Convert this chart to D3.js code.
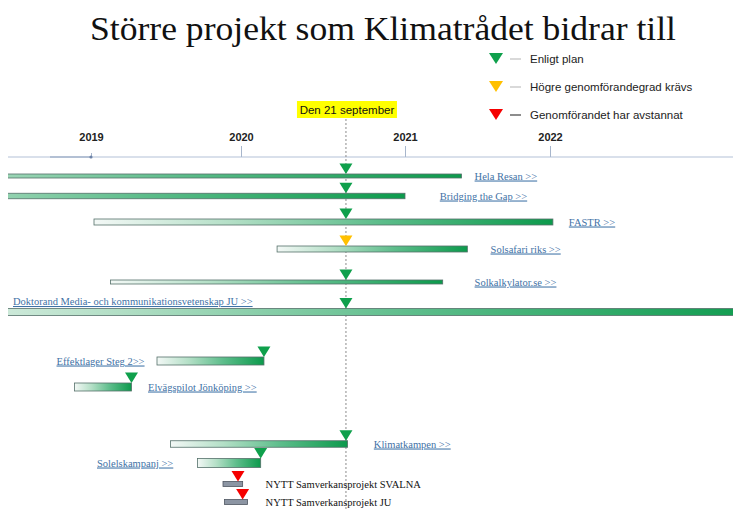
<!DOCTYPE html>
<html>
<head>
<meta charset="utf-8">
<script src="https://cdn.jsdelivr.net/npm/d3@7"></script>
<style>
  html, body { margin: 0; padding: 0; background: #fff; }
  svg { display: block; }
</style>
</head>
<body>
<svg id="chart" width="733" height="509"></svg>
<script>
// ---------------------------------------------------------------
// Data (years as decimal values, lanes in row units)
// ---------------------------------------------------------------
const years = [2019, 2020, 2021, 2022]
const today = 2020.64
const todayLabel = 'Den 21 september'

const projects = [
  'Hela Resan >>', 'Bridging the Gap >>', 'FASTR >>', 'Solsafari riks >>',
  'Solkalkylator.se >>', 'Doktorand Media- och kommunikationsvetenskap JU >>',
  'Effektlager Steg 2>>', 'Elvägspilot Jönköping >>', 'Klimatkampen >>',
  'Solelskampanj >>', 'NYTT Samverkansprojekt SVALNA', 'NYTT Samverkansprojekt JU'
]
const starts   = [2016.5, 2016.5, 2019.02, 2020.22, 2019.13, 2017.3, 2019.44, 2018.89, 2019.53, 2019.71, 2019.88, 2019.89]
const ends     = [2021.39, 2021.0, 2022.02, 2021.43, 2021.26, 2023.5, 2020.14, 2019.27, 2020.65, 2020.12, 2020.01, 2020.04]
const markerAt = [today, today, today, today, today, today, 2020.14, 2019.27, today, 2020.12, 2019.98, 2020.01]
const status   = ['ok', 'ok', 'ok', 'warn', 'ok', 'ok', 'ok', 'ok', 'ok', 'ok', 'stop', 'stop']
const lanes    = [0, 2, 4.6, 7.3, 10.6, 13.6, 18.5, 21.1, 26.8, 28.7, 30.8, 32.6]
const labelAt  = [2021.48, 2021.24, 2022.13, 2021.59, 2021.48, 2018.48, 2018.77, 2019.38, 2020.81, 2019.04, 2020.15, 2020.15]
const isNew    = [false, false, false, false, false, false, false, false, false, false, true, true]

const legendKeys   = ['ok', 'warn', 'stop']
const legendLabels = ['Enligt plan', 'Högre genomförandegrad krävs', 'Genomförandet har avstannat']

// ---------------------------------------------------------------
// Styles
// ---------------------------------------------------------------
const W = 733, H = 509
const LEFT = 8
const AXIS_Y = 157
const BAR_H = [4, 5.5, 6, 6, 4, 7, 8, 8, 6.5, 9, 5, 5]
const STATUS_COLOR = { ok: '#0fa04c', warn: '#ffc000', stop: '#f50000' }
const LEGEND_DASH = { ok: '#bfbfbf', warn: '#bfbfbf', stop: '#404040' }
const LINK_COLOR = '#3f72a6'
const SERIF = '"Liberation Serif", "DejaVu Serif", serif'
const SANS = '"Liberation Sans", "Noto Sans", Arial, sans-serif'

const rows = projects.map((name, i) => ({
  i, name, start: starts[i], end: ends[i], marker: markerAt[i],
  status: status[i], lane: lanes[i], label: labelAt[i], isNew: isNew[i]
}))

const x = d3.scaleLinear().domain(years).range([91, 241, 405, 550])
const y = d3.scaleLinear().domain([0, 32.6]).range([176, 502])

const svg = d3.select('#chart')
const defs = svg.append('defs')

defs.append('clipPath').attr('id', 'plotclip')
  .append('rect').attr('x', LEFT).attr('y', 0).attr('width', W - LEFT).attr('height', H)

// gradient per bar: whitish at start, deep green at end
rows.forEach(d => {
  const g = defs.append('linearGradient').attr('id', 'grad' + d.i)
    .attr('x1', '0').attr('x2', '1').attr('y1', '0').attr('y2', '0')
  const stops = [[0, '#f3f8f6'], [0.3, '#b3dfc6'], [0.62, '#5dbd8b'], [1, '#0c9a4c']]
  stops.forEach(s => g.append('stop').attr('offset', s[0]).attr('stop-color', s[1]))
})

// ---------------------------------------------------------------
// Title
// ---------------------------------------------------------------
svg.append('text')
  .attr('x', 383).attr('y', 40)
  .attr('text-anchor', 'middle')
  .attr('textLength', 586).attr('lengthAdjust', 'spacingAndGlyphs')
  .style('font-family', SERIF)
  .style('font-size', '34px')
  .style('fill', '#111')
  .text('Större projekt som Klimatrådet bidrar till')

// ---------------------------------------------------------------
// Legend
// ---------------------------------------------------------------
const tri = (cx, tipY, w, h) => d3.line()([[cx - w / 2, tipY - h], [cx + w / 2, tipY - h], [cx, tipY]]) + 'Z'

const leg = svg.append('g').selectAll('g').data(legendKeys).join('g')
  .attr('transform', (d, i) => `translate(0, ${59 + i * 28})`)
leg.append('path').attr('d', tri(496, 5, 14, 11)).attr('fill', d => STATUS_COLOR[d])
leg.append('line').attr('x1', 510).attr('x2', 521).attr('y1', 0).attr('y2', 0)
  .attr('stroke', d => LEGEND_DASH[d]).attr('stroke-width', 1.2)
leg.append('text').attr('x', 530).attr('y', 4)
  .style('font-family', SANS).style('font-size', '11.5px').style('fill', '#222')
  .text((d, i) => legendLabels[i])

// ---------------------------------------------------------------
// Time axis
// ---------------------------------------------------------------
svg.append('line')
  .attr('x1', LEFT).attr('x2', W).attr('y1', AXIS_Y).attr('y2', AXIS_Y)
  .attr('stroke', '#b4c2d8').attr('stroke-width', 1.2)
svg.append('line')
  .attr('x1', 50).attr('x2', x(2019)).attr('y1', AXIS_Y).attr('y2', AXIS_Y)
  .attr('stroke', '#8d9fbd').attr('stroke-width', 1.2)

const axis = svg.append('g')
  .attr('transform', `translate(0, ${AXIS_Y})`)
  .call(d3.axisTop(x).tickValues(years).tickFormat(d3.format('d')).tickSize(11).tickPadding(5))
axis.select('.domain').remove()
axis.selectAll('.tick line').attr('stroke', '#a7b6cc')
  .attr('y2', d => d === 2019 ? -4 : -11)
axis.selectAll('.tick text')
  .style('font-family', SANS).style('font-size', '11px').style('font-weight', 'bold').style('fill', '#222')
  .attr('y', -16)
axis.append('circle').attr('cx', x(2019)).attr('cy', 0).attr('r', 1.6).attr('fill', '#6d83a8')

// today marker line and label
svg.append('rect')
  .attr('x', x(today) - 49).attr('y', 101).attr('width', 100).attr('height', 17)
  .attr('fill', '#ffff00')
svg.append('text')
  .attr('x', x(today) + 1).attr('y', 114)
  .attr('text-anchor', 'middle')
  .style('font-family', SANS).style('font-size', '11.5px').style('fill', '#111')
  .text(todayLabel)
svg.append('line')
  .attr('x1', x(today)).attr('x2', x(today)).attr('y1', 119).attr('y2', H)
  .attr('stroke', '#8a8a8a').attr('stroke-width', 1).attr('stroke-dasharray', '2,2')

// ---------------------------------------------------------------
// Bars
// ---------------------------------------------------------------
const bars = svg.append('g').attr('clip-path', 'url(#plotclip)')
bars.selectAll('rect').data(rows).join('rect')
  .attr('x', d => x(d.start))
  .attr('y', (d, i) => y(d.lane) - BAR_H[i] / 2)
  .attr('width', d => x(d.end) - x(d.start))
  .attr('height', (d, i) => BAR_H[i])
  .attr('fill', d => d.isNew ? '#8c95a3' : `url(#grad${d.i})`)
  .attr('stroke', d => d.isNew ? '#4f5661' : '#55706a')
  .attr('stroke-width', 0.8)

// status markers, tip touching top of bar
svg.append('g').selectAll('path').data(rows).join('path')
  .attr('d', (d, i) => tri(x(d.marker), y(d.lane) - BAR_H[i] / 2, 13, 10.5))
  .attr('fill', d => STATUS_COLOR[d.status])

// labels
svg.append('g').selectAll('text').data(rows).join('text')
  .attr('x', d => x(d.label))
  .attr('y', d => d.i === 5 ? y(d.lane) - 7 : y(d.lane) + 3.5)
  .style('font-family', SERIF)
  .style('font-size', '10.5px')
  .style('fill', d => d.isNew ? '#111' : LINK_COLOR)
  .style('text-decoration', d => d.isNew ? 'none' : 'underline')
  .text(d => d.name)
</script>
</body>
</html>
